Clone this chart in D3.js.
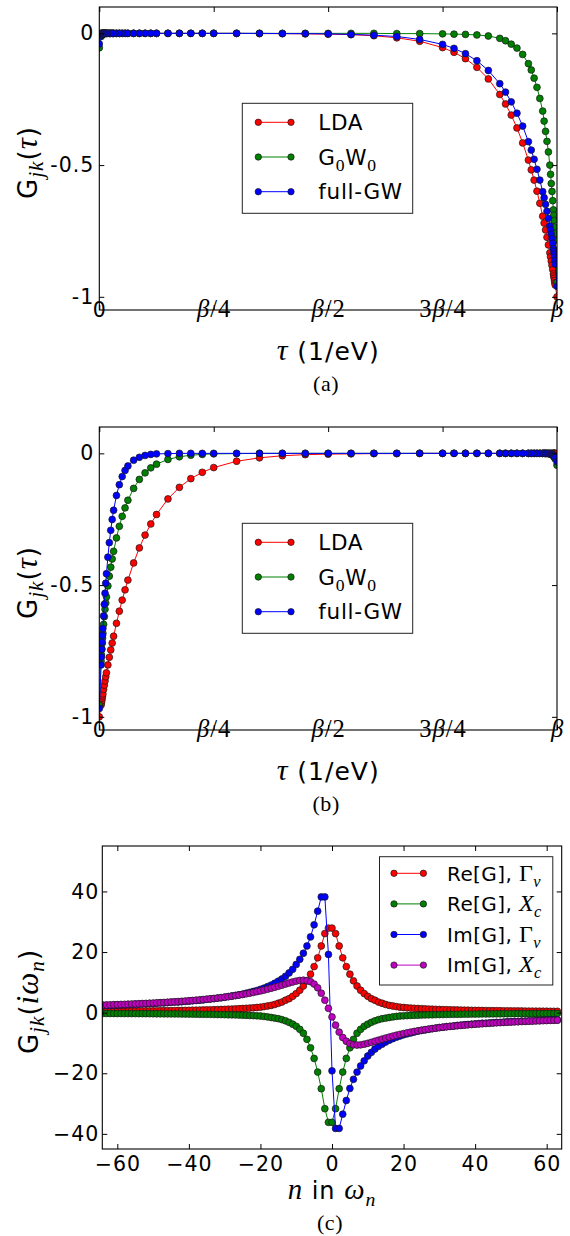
<!DOCTYPE html>
<html lang="en">
<head>
<meta charset="UTF-8">
<title>G_jk - imaginary time and Matsubara</title>
<script src="https://d3js.org/d3.v7.min.js"></script>
<style>
  body { margin: 0; background: #fff; }
  svg { display: block; }
</style>
</head>
<body>
<script>
// imaginary time mesh, in units of beta
let tauMesh = [0, 0.00390625, 0.0046875, 0.00546875, 0.00625, 0.00703125, 0.0078125, 0.009375, 0.0109375, 0.0125,
  0.0140625, 0.015625, 0.01875, 0.021875, 0.025, 0.028125, 0.03125, 0.0375, 0.04375, 0.05,
  0.05625, 0.0625, 0.075, 0.0875, 0.1, 0.1125, 0.125, 0.15, 0.175, 0.2,
  0.225, 0.25, 0.3, 0.35, 0.4, 0.45, 0.5, 0.55, 0.6, 0.65,
  0.7, 0.75, 0.775, 0.8, 0.825, 0.85, 0.875, 0.8875, 0.9, 0.9125,
  0.925, 0.9375, 0.94375, 0.95, 0.95625, 0.9625, 0.96875, 0.971875, 0.975, 0.978125,
  0.98125, 0.984375, 0.9859375, 0.9875, 0.9890625, 0.990625, 0.9921875, 0.99296875, 0.99375, 0.99453125,
  0.9953125, 0.99609375, 1]
let tauTicks = [0, 0.25, 0.5, 0.75, 1]
let tauTickLabels = [[["0", "s"]], [["β", "i"], ["/4", "r"]], [["β", "i"], ["/2", "r"]], [["3", "r"], ["β", "i"], ["/4", "r"]], [["β", "i"]]]
let gTauTicks = [0, -0.5, -1]

// panel (a)
let ldaA = [0, 0, 0, 0, 0, 0, 0, 0, 0, 0,
  0, 0, 0, 0, 0, 0, 0, 0, 0, 0,
  0, 0, 0, 0, 0, 0, 0, 0, 0, 0,
  0, 0, 0, -0.001, -0.001, -0.002, -0.003, -0.005, -0.009, -0.017,
  -0.030, -0.054, -0.072, -0.096, -0.129, -0.173, -0.232, -0.268, -0.310, -0.359,
  -0.416, -0.481, -0.518, -0.557, -0.599, -0.645, -0.694, -0.720, -0.746, -0.774,
  -0.803, -0.833, -0.848, -0.864, -0.880, -0.896, -0.913, -0.921, -0.929, -0.938,
  -0.947, -0.955, -1.0]
let g0w0A = [-0.055, -0.012, -0.009, -0.006, -0.004, -0.003, -0.002, -0.001, 0, 0,
  0, 0, 0, 0, 0, 0, 0, 0, 0, 0,
  0, 0, 0, 0, 0, 0, 0, 0, 0, 0,
  0, 0, 0, 0, 0, 0, 0, 0, 0, -0.001,
  -0.001, -0.002, -0.003, -0.004, -0.006, -0.010, -0.019, -0.028, -0.041, -0.056,
  -0.080, -0.115, -0.139, -0.170, -0.205, -0.247, -0.295, -0.333, -0.372, -0.41,
  -0.45, -0.50, -0.535, -0.57, -0.60, -0.635, -0.67, -0.69, -0.71, -0.735,
  -0.76, -0.785, -0.945]
let fullGwA = [-0.040, -0.008, -0.005, -0.003, -0.002, -0.001, 0, 0, 0, 0,
  0, 0, 0, 0, 0, 0, 0, 0, 0, 0,
  0, 0, 0, 0, 0, 0, 0, 0, 0, 0,
  0, 0, 0, 0, -0.001, -0.001, -0.002, -0.004, -0.007, -0.012,
  -0.023, -0.042, -0.057, -0.077, -0.104, -0.141, -0.191, -0.223, -0.260, -0.303,
  -0.352, -0.411, -0.443, -0.478, -0.516, -0.557, -0.601, -0.624, -0.649, -0.675,
  -0.702, -0.731, -0.746, -0.762, -0.779, -0.797, -0.817, -0.827, -0.838, -0.850,
  -0.862, -0.876, -0.960]

// panel (b)
let ldaB = [-1.0, -0.955, -0.947, -0.938, -0.929, -0.921, -0.913, -0.896, -0.880, -0.864,
  -0.848, -0.833, -0.803, -0.774, -0.746, -0.720, -0.694, -0.645, -0.599, -0.557,
  -0.518, -0.481, -0.416, -0.359, -0.310, -0.268, -0.232, -0.173, -0.129, -0.096,
  -0.072, -0.054, -0.030, -0.017, -0.009, -0.005, -0.003, -0.002, -0.001, -0.001,
  0, 0, 0, 0, 0, 0, 0, 0, 0, 0,
  0, 0, 0, 0, 0, 0, 0, 0, 0, 0,
  0, 0, 0, 0, 0, 0, 0, 0, 0, 0,
  0, 0, 0]
let g0w0B = [-0.955, -0.789, -0.765, -0.742, -0.721, -0.701, -0.683, -0.649, -0.620, -0.592,
  -0.568, -0.545, -0.503, -0.466, -0.432, -0.401, -0.372, -0.321, -0.277, -0.239,
  -0.207, -0.178, -0.133, -0.099, -0.074, -0.055, -0.041, -0.023, -0.013, -0.007,
  -0.004, -0.002, -0.001, 0, 0, 0, 0, 0, 0, 0,
  0, 0, 0, 0, 0, 0, 0, 0, 0, 0,
  0, 0, 0, 0, 0, 0, 0, 0, 0, -0.001,
  -0.001, -0.002, -0.003, -0.004, -0.005, -0.007, -0.009, -0.011, -0.013, -0.015,
  -0.018, -0.021, -0.045]
let fullGwB = [-0.968, -0.803, -0.773, -0.744, -0.717, -0.691, -0.665, -0.617, -0.573, -0.531,
  -0.493, -0.457, -0.394, -0.339, -0.292, -0.251, -0.216, -0.160, -0.119, -0.088,
  -0.065, -0.048, -0.026, -0.015, -0.008, -0.004, -0.002, -0.001, 0, 0,
  0, 0, 0, 0, 0, 0, 0, 0, 0, 0,
  0, 0, 0, 0, 0, 0, 0, 0, 0, 0,
  0, 0, 0, 0, 0, 0, 0, 0, 0, 0,
  0, -0.001, -0.002, -0.003, -0.004, -0.005, -0.007, -0.008, -0.009, -0.011,
  -0.013, -0.015, -0.032]

// panel (c): Matsubara index n
let nIndex = [-64, -63, -62, -61, -60, -59, -58, -57, -56, -55, -54, -53, -52, -51, -50, -49,
  -48, -47, -46, -45, -44, -43, -42, -41, -40, -39, -38, -37, -36, -35, -34, -33,
  -32, -31, -30, -29, -28, -27, -26, -25, -24, -23, -22, -21, -20, -19, -18, -17,
  -16, -15, -14, -13, -12, -11, -10, -9, -8, -7, -6, -5, -4, -3, -2, -1,
  0, 1, 2, 3, 4, 5, 6, 7, 8, 9, 10, 11, 12, 13, 14, 15,
  16, 17, 18, 19, 20, 21, 22, 23, 24, 25, 26, 27, 28, 29, 30, 31,
  32, 33, 34, 35, 36, 37, 38, 39, 40, 41, 42, 43, 44, 45, 46, 47,
  48, 49, 50, 51, 52, 53, 54, 55, 56, 57, 58, 59, 60, 61, 62, 63]
let reGammaV = [0.44, 0.44, 0.45, 0.46, 0.47, 0.48, 0.49, 0.50, 0.51, 0.52,
  0.54, 0.55, 0.56, 0.57, 0.59, 0.60, 0.62, 0.63, 0.65, 0.67,
  0.69, 0.71, 0.73, 0.75, 0.77, 0.80, 0.82, 0.85, 0.88, 0.91,
  0.94, 0.98, 1.01, 1.05, 1.09, 1.14, 1.19, 1.25, 1.30, 1.37,
  1.44, 1.52, 1.60, 1.70, 1.8, 2.0, 2.2, 2.4, 2.7, 3.1,
  3.5, 4.1, 4.6, 5.4, 6.3, 7.4, 8.8, 10.5, 12.7, 15.2,
  18.1, 22.0, 26.1, 27.9,
  27.9, 26.1, 22.0, 18.1, 15.2, 12.7, 10.5, 8.8, 7.4, 6.3,
  5.4, 4.6, 4.1, 3.5, 3.1, 2.7, 2.4, 2.2, 2.0, 1.8,
  1.70, 1.60, 1.52, 1.44, 1.37, 1.30, 1.25, 1.19, 1.14, 1.09,
  1.05, 1.01, 0.98, 0.94, 0.91, 0.88, 0.85, 0.82, 0.80, 0.77,
  0.75, 0.73, 0.71, 0.69, 0.67, 0.65, 0.63, 0.62, 0.60, 0.59,
  0.57, 0.56, 0.55, 0.54, 0.52, 0.51, 0.50, 0.49, 0.48, 0.47,
  0.46, 0.45, 0.44, 0.44]
let reXc = [-0.27, -0.27, -0.28, -0.28, -0.29, -0.29, -0.30, -0.31, -0.31, -0.32,
  -0.33, -0.33, -0.34, -0.35, -0.36, -0.37, -0.38, -0.39, -0.40, -0.41,
  -0.42, -0.43, -0.44, -0.46, -0.47, -0.49, -0.50, -0.52, -0.54, -0.55,
  -0.57, -0.60, -0.62, -0.64, -0.67, -0.70, -0.73, -0.76, -0.80, -0.84,
  -0.88, -0.93, -0.98, -1.04, -1.1, -1.25, -1.4, -1.6, -1.8, -2.0,
  -2.3, -2.7, -3.2, -3.8, -4.5, -5.5, -6.8, -8.8, -11.6, -15.1,
  -19.6, -25.1, -31.7, -36.2,
  -36.2, -31.7, -25.1, -19.6, -15.1, -11.6, -8.8, -6.8, -5.5, -4.5,
  -3.8, -3.2, -2.7, -2.3, -2.0, -1.8, -1.6, -1.4, -1.25, -1.1,
  -1.04, -0.98, -0.93, -0.88, -0.84, -0.80, -0.76, -0.73, -0.70, -0.67,
  -0.64, -0.62, -0.60, -0.57, -0.55, -0.54, -0.52, -0.50, -0.49, -0.47,
  -0.46, -0.44, -0.43, -0.42, -0.41, -0.40, -0.39, -0.38, -0.37, -0.36,
  -0.35, -0.34, -0.33, -0.33, -0.32, -0.31, -0.31, -0.30, -0.29, -0.29,
  -0.28, -0.28, -0.27, -0.27]
let imGammaV = [2.4, 2.4, 2.4, 2.5, 2.5, 2.6, 2.6, 2.7, 2.7, 2.8,
  2.8, 2.9, 2.9, 3.0, 3.0, 3.1, 3.2, 3.2, 3.3, 3.4,
  3.5, 3.5, 3.6, 3.7, 3.8, 3.9, 4.0, 4.1, 4.2, 4.4,
  4.5, 4.6, 4.8, 4.9, 5.1, 5.3, 5.5, 5.7, 5.9, 6.1,
  6.4, 6.7, 7.0, 7.3, 7.7, 8.1, 8.6, 9.1, 9.7, 10.4,
  11.1, 12.0, 13.1, 14.3, 15.9, 17.6, 19.6, 22.0, 25.0, 29.0,
  33.5, 38.2, 38.2, 19.2,
  -19.2, -38.2, -38.2, -33.5, -29.0, -25.0, -22.0, -19.6, -17.6, -15.9,
  -14.3, -13.1, -12.0, -11.1, -10.4, -9.7, -9.1, -8.6, -8.1, -7.7,
  -7.3, -7.0, -6.7, -6.4, -6.1, -5.9, -5.7, -5.5, -5.3, -5.1,
  -4.9, -4.8, -4.6, -4.5, -4.4, -4.2, -4.1, -4.0, -3.9, -3.8,
  -3.7, -3.6, -3.5, -3.5, -3.4, -3.3, -3.2, -3.2, -3.1, -3.0,
  -3.0, -2.9, -2.9, -2.8, -2.8, -2.7, -2.7, -2.6, -2.6, -2.5,
  -2.5, -2.4, -2.4, -2.4]
let imXc = [2.49, 2.53, 2.57, 2.61, 2.66, 2.70, 2.74, 2.79, 2.84, 2.89,
  2.94, 3.00, 3.05, 3.11, 3.17, 3.23, 3.30, 3.36, 3.43, 3.51,
  3.58, 3.66, 3.75, 3.83, 3.92, 4.02, 4.12, 4.22, 4.33, 4.44,
  4.56, 4.69, 4.82, 4.96, 5.11, 5.27, 5.43, 5.61, 5.79, 5.99,
  6.20, 6.42, 6.66, 6.91, 7.17, 7.45, 7.75, 8.06, 8.39, 8.73,
  9.08, 9.44, 9.79, 10.12, 10.41, 10.62, 10.70, 10.59, 10.21, 9.44,
  8.20, 6.42, 4.12, 1.42,
  -1.42, -4.12, -6.42, -8.20, -9.44, -10.21, -10.59, -10.70, -10.62, -10.41,
  -10.12, -9.79, -9.44, -9.08, -8.73, -8.39, -8.06, -7.75, -7.45, -7.17,
  -6.91, -6.66, -6.42, -6.20, -5.99, -5.79, -5.61, -5.43, -5.27, -5.11,
  -4.96, -4.82, -4.69, -4.56, -4.44, -4.33, -4.22, -4.12, -4.02, -3.92,
  -3.83, -3.75, -3.66, -3.58, -3.51, -3.43, -3.36, -3.30, -3.23, -3.17,
  -3.11, -3.05, -3.00, -2.94, -2.89, -2.84, -2.79, -2.74, -2.70, -2.66,
  -2.61, -2.57, -2.53, -2.49]
let nTicks = [-60, -40, -20, 0, 20, 40, 60]
let gFreqTicks = [-40, -20, 0, 20, 40]

// sanity check on the hand typed arrays
;[ldaA, g0w0A, fullGwA, ldaB, g0w0B, fullGwB].forEach(function (a, i) {
  if (a.length !== tauMesh.length) throw new Error("tau series " + i + " has " + a.length)
})
;[reGammaV, reXc, imGammaV, imXc].forEach(function (a, i) {
  if (a.length !== nIndex.length) throw new Error("freq series " + i + " has " + a.length)
})

let sans = "'DejaVu Sans', sans-serif"
let serif = "'Liberation Serif', 'DejaVu Serif', serif"
let red = "#ff0000", green = "#008000", blue = "#0000ff", magenta = "#bf00bf"

let svg = d3.select("body").append("svg").attr("width", 570).attr("height", 1236)
svg.append("rect").attr("width", 570).attr("height", 1236).attr("fill", "#fff")

// mathtext-ish label: s = sans, i = math italic, r = math roman, sub* = subscript
function rich(text, parts, size, subShift) {
  let shift = 0
  parts.forEach(function (p) {
    let kind = p[1]
    let sub = kind.indexOf("sub") === 0
    if (sub) kind = kind.slice(3)
    let target = sub ? size * (subShift || 0.3) : 0
    let fs = kind === "s" ? size : size * 1.2
    if (sub) fs = size * 0.82
    text.append("tspan").text(p[0])
      .attr("dy", target - shift)
      .attr("font-family", kind === "s" ? sans : serif)
      .attr("font-style", kind === "i" ? "italic" : "normal")
      .attr("font-size", fs)
    shift = target
  })
}

function drawPanel(cfg) {
  let w = cfg.right - cfg.left
  let h = cfg.bottom - cfg.top
  let x = d3.scaleLinear().domain(cfg.xDomain).range([0, w])
  let y = d3.scaleLinear().domain(cfg.yDomain).range([h, 0])
  let g = svg.append("g").attr("transform", `translate(${cfg.left},${cfg.top})`)

  g.append("clipPath").attr("id", "clip" + cfg.id)
    .append("rect").attr("width", w).attr("height", h)
  let plot = g.append("g").attr("clip-path", `url(#clip${cfg.id})`)

  let lineGen = d3.line()
    .x(function (d, i) { return x(cfg.xs[i]) })
    .y(function (d) { return y(d) })

  cfg.series.forEach(function (s) {
    plot.append("path").attr("d", lineGen(s.values))
      .attr("fill", "none").attr("stroke", s.color).attr("stroke-width", 1)
    plot.append("g").selectAll("circle").data(s.values).enter().append("circle")
      .attr("cx", function (d, i) { return x(cfg.xs[i]) })
      .attr("cy", function (d) { return y(d) })
      .attr("r", 3.4)
      .attr("fill", s.color).attr("stroke", "#1a1a1a").attr("stroke-width", 0.7)
  })

  // axes, ticks pointing inwards on all four sides
  let xb = g.append("g").attr("transform", `translate(0,${h})`)
    .call(d3.axisBottom(x).tickValues(cfg.xTicks).tickSizeInner(-5).tickSizeOuter(0).tickPadding(cfg.xPad).tickFormat(cfg.xFmt))
  g.append("g")
    .call(d3.axisTop(x).tickValues(cfg.xTicks).tickSizeInner(-5).tickSizeOuter(0).tickFormat(""))
  g.append("g")
    .call(d3.axisLeft(y).tickValues(cfg.yTicks).tickSizeInner(-5).tickSizeOuter(0).tickPadding(cfg.yPad).tickFormat(cfg.yFmt))
  g.append("g").attr("transform", `translate(${w},0)`)
    .call(d3.axisRight(y).tickValues(cfg.yTicks).tickSizeInner(-5).tickSizeOuter(0).tickFormat(""))
  g.selectAll(".domain").remove()
  g.selectAll(".tick line").attr("stroke", "#000").attr("stroke-width", 1)
  g.selectAll(".tick text").attr("fill", "#000").attr("font-family", sans)
    .attr("font-size", 20.5).attr("letter-spacing", 1)

  if (cfg.xRich) {
    xb.selectAll(".tick text").each(function (d, i) {
      let t = d3.select(this)
      t.text("")
      rich(t, cfg.xRich[i], 20.5)
    })
  }

  g.append("rect").attr("width", w).attr("height", h)
    .attr("fill", "none").attr("stroke", "#000").attr("stroke-width", 1.1)

  // axis titles
  let yt = svg.append("text")
    .attr("transform", `translate(${cfg.yLabelX},${(cfg.top + cfg.bottom) / 2 + 4}) rotate(-90)`)
    .attr("text-anchor", "middle").attr("fill", "#000").attr("letter-spacing", 1)
  rich(yt, cfg.yLabel, 26, 0.22)
  let xt = svg.append("text")
    .attr("x", (cfg.left + cfg.right) / 2).attr("y", cfg.bottom + 50)
    .attr("text-anchor", "middle").attr("fill", "#000").attr("letter-spacing", 1)
  rich(xt, cfg.xLabel, cfg.xLabelSize)
  svg.append("text")
    .attr("x", (cfg.left + cfg.right) / 2 - 2).attr("y", cfg.bottom + 81)
    .attr("text-anchor", "middle").attr("font-family", serif).attr("font-size", 22)
    .attr("letter-spacing", 0.6).attr("fill", "#000").text(cfg.caption)

  // legend
  let L = cfg.legend
  let lg = svg.append("g")
  lg.append("rect").attr("x", L.x).attr("y", L.y).attr("width", L.w).attr("height", L.h)
    .attr("fill", "#fff").attr("stroke", "#222").attr("stroke-width", 1)
  cfg.series.forEach(function (s, i) {
    let ry = L.y + L.first + i * L.step
    lg.append("line").attr("x1", L.x + L.l1).attr("x2", L.x + L.l2).attr("y1", ry).attr("y2", ry)
      .attr("stroke", s.color).attr("stroke-width", 1)
    ;[L.l1, L.l2].forEach(function (lx) {
      lg.append("circle").attr("cx", L.x + lx).attr("cy", ry).attr("r", 3.2)
        .attr("fill", s.color).attr("stroke", "#1a1a1a").attr("stroke-width", 0.7)
    })
    let tt = lg.append("text").attr("x", L.x + L.tx).attr("y", ry + L.fs * 0.36)
      .attr("fill", "#000").attr("letter-spacing", L.ls)
    rich(tt, s.label, L.fs)
  })
}

let tauSeriesLabels = [[["LDA", "s"]], [["G", "s"], ["0", "subr"], ["W", "s"], ["0", "subr"]], [["full-GW", "s"]]]
let tauYLabel = [["G", "s"], ["jk", "subi"], ["(", "s"], ["τ", "i"], [")", "s"]]
let tauXLabel = [["τ", "i"], [" (1/eV)", "s"]]

function tauPanel(id, top, values, caption) {
  drawPanel({
    id: id, left: 99.3, right: 557, top: top, bottom: top + 303,
    xDomain: [0, 1], yDomain: [-1.05, 0.1], xs: tauMesh,
    xTicks: tauTicks, yTicks: gTauTicks,
    xFmt: function (d) { return String(d) }, xRich: tauTickLabels,
    yFmt: function (d) { return String(d) },
    xPad: 7, yPad: 5,
    series: [
      { values: values[0], color: red, label: tauSeriesLabels[0] },
      { values: values[1], color: green, label: tauSeriesLabels[1] },
      { values: values[2], color: blue, label: tauSeriesLabels[2] }
    ],
    yLabel: tauYLabel, xLabel: tauXLabel, xLabelSize: 25, yLabelX: 37, caption: caption,
    legend: { x: 242.3, y: top + 96.3, w: 170.4, h: 110, first: 19, step: 34.7, l1: 16, l2: 48.7, tx: 76, fs: 21.5, ls: 0.7 }
  })
}

tauPanel("a", 7, [ldaA, g0w0A, fullGwA], "(a)")
tauPanel("b", 427, [ldaB, g0w0B, fullGwB], "(b)")

drawPanel({
  id: "c", left: 102.3, right: 561.7, top: 846, bottom: 1149,
  xDomain: [-64.2, 64.2], yDomain: [-45, 55], xs: nIndex,
  xTicks: nTicks, yTicks: gFreqTicks,
  xFmt: function (d) { return d < 0 ? "\u2212" + Math.abs(d) : String(d) },
  yFmt: function (d) { return d < 0 ? "\u2212" + Math.abs(d) : String(d) },
  xPad: 7, yPad: 3,
  series: [
    { values: reGammaV, color: red, label: [["Re[G], ", "s"], ["Γ", "r"], ["v", "subi"]] },
    { values: reXc, color: green, label: [["Re[G], ", "s"], ["X", "i"], ["c", "subi"]] },
    { values: imGammaV, color: blue, label: [["Im[G], ", "s"], ["Γ", "r"], ["v", "subi"]] },
    { values: imXc, color: magenta, label: [["Im[G], ", "s"], ["X", "i"], ["c", "subi"]] }
  ],
  yLabel: [["G", "s"], ["jk", "subi"], ["(", "s"], ["iω", "i"], ["n", "subi"], [")", "s"]],
  xLabel: [["n", "i"], [" in ", "s"], ["ω", "i"], ["n", "subi"]], xLabelSize: 24,
  yLabelX: 38, caption: "(c)",
  legend: { x: 379.5, y: 856.7, w: 173.3, h: 128.3, first: 16.6, step: 30.6, l1: 14.5, l2: 43.9, tx: 67.5, fs: 20, ls: 0.4 }
})
</script>
</body>
</html>
